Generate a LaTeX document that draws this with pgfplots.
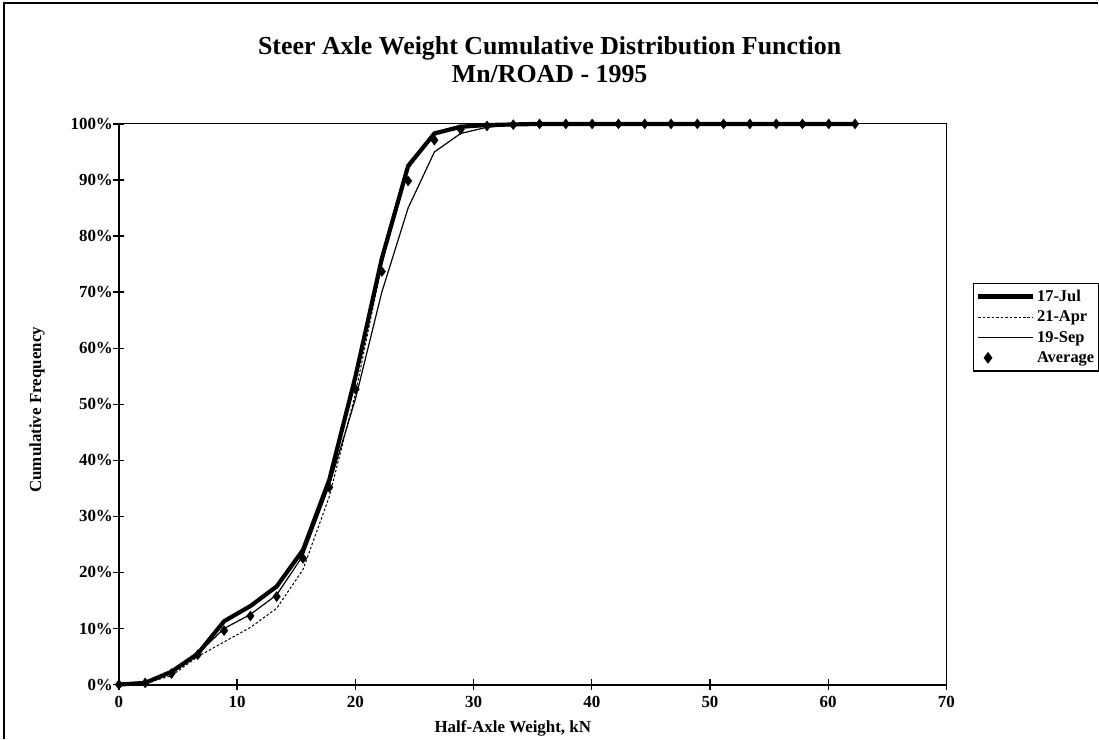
\documentclass[border=0pt]{standalone}
\usepackage{fontspec}
\setmainfont{Liberation Serif}
\usepackage{pgfplots}
\usepackage{pgfplotstable}
\pgfplotsset{compat=1.18}
\pgfplotsset{
  myavgleg/.style={legend image code/.code={\draw[##1] plot coordinates {(10bp,0bp)};}},
  mylineleg/.style={legend image code/.code={\draw[##1] (0bp,0bp) -- (55bp,0bp);}},
}
\pgfplotstableread{
x jul apr sep avg
0 0 0 0 0
2.224 0.3 0.2 0.4 0.3
4.448 2.3 1.6 2.0 1.97
6.672 5.5 5.0 5.5 5.33
8.896 11.3 7.6 10.0 9.63
11.12 14.0 10.2 12.5 12.23
13.344 17.5 13.6 16.0 15.7
15.568 24.0 20.5 23.0 22.5
17.792 36.5 33.5 35.5 35.17
20.016 55.0 52.0 51.0 52.67
22.24 76.0 75.0 70.0 73.67
24.464 92.5 92.0 85.0 89.83
26.688 98.3 98.0 95.0 97.1
28.912 99.5 99.2 98.3 99.0
31.136 99.8 99.7 99.4 99.63
33.36 99.9 99.9 99.8 99.87
35.584 100 100 100 100
37.808 100 100 100 100
40.032 100 100 100 100
42.256 100 100 100 100
44.48 100 100 100 100
46.704 100 100 100 100
48.928 100 100 100 100
51.152 100 100 100 100
53.376 100 100 100 100
55.6 100 100 100 100
57.824 100 100 100 100
60.048 100 100 100 100
62.272 100 100 100 100
}\data
\begin{document}
\begin{tikzpicture}[x=1bp,y=1bp]
\path (0,0) rectangle (1099,739);
\draw[line width=1.4bp] (4,0) -- (4,736) -- (1099,736);
\node[font=\bfseries\fontsize{26}{28}\selectfont, align=center] at (550,679) {Steer Axle Weight Cumulative Distribution Function\\Mn/ROAD - 1995};
\begin{axis}[
  at={(119bp,54bp)}, anchor=south west,
  width=828bp, height=561bp, scale only axis,
  xmin=0, xmax=70, ymin=0, ymax=100,
  xtick={0,10,...,70}, ytick={0,10,...,100},
  yticklabel={\pgfmathprintnumber{\tick}\%},
  /pgf/number format/assume math mode=true,
  tick align=center, xtick pos=bottom, ytick pos=left,
  major tick length=11bp,
  tick style={black, line width=1.3bp},
  axis line style={line width=0.9bp},
  ticklabel style={font=\bfseries\fontsize{17}{19}\selectfont},
  yticklabel style={xshift=3bp},
  xticklabel style={yshift=-3bp},
  xlabel={Half-Axle Weight, kN},
  ylabel={Cumulative Frequency},
  label style={font=\bfseries\fontsize{17}{19}\selectfont},
  xlabel style={at={(axis description cs:0.476,-0.079)}, anchor=center},
  ylabel style={at={(axis description cs:-0.099,0.49)}, anchor=center},
  legend style={at={(1.0326,0.717)}, anchor=north west, draw=black, line width=1.1bp,
    font=\bfseries\fontsize{16.5}{18}\selectfont, inner xsep=2bp, inner ysep=5bp, row sep=4bp,
    /tikz/every even column/.append style={column sep=2bp}},
  legend cell align=left,
  mylineleg,
  clip=false,
]
\draw[line width=2bp] (rel axis cs:0,1) -- (rel axis cs:0,0) -- (rel axis cs:1,0);
\addplot[black, line width=4.2bp, no markers] table[x=x,y=jul] {\data};
\addlegendentry{17-Jul}
\addplot[black, line width=1bp, dash pattern=on 2.5bp off 2bp, no markers] table[x=x,y=apr] {\data};
\addlegendentry{21-Apr}
\addplot[black, line width=1.2bp, no markers] table[x=x,y=sep] {\data};
\addlegendentry{19-Sep}
\addplot[black, only marks, mark=diamond*, mark size=5bp, myavgleg] table[x=x,y=avg] {\data};
\addlegendentry{Average}
\end{axis}
\end{tikzpicture}
\end{document}
